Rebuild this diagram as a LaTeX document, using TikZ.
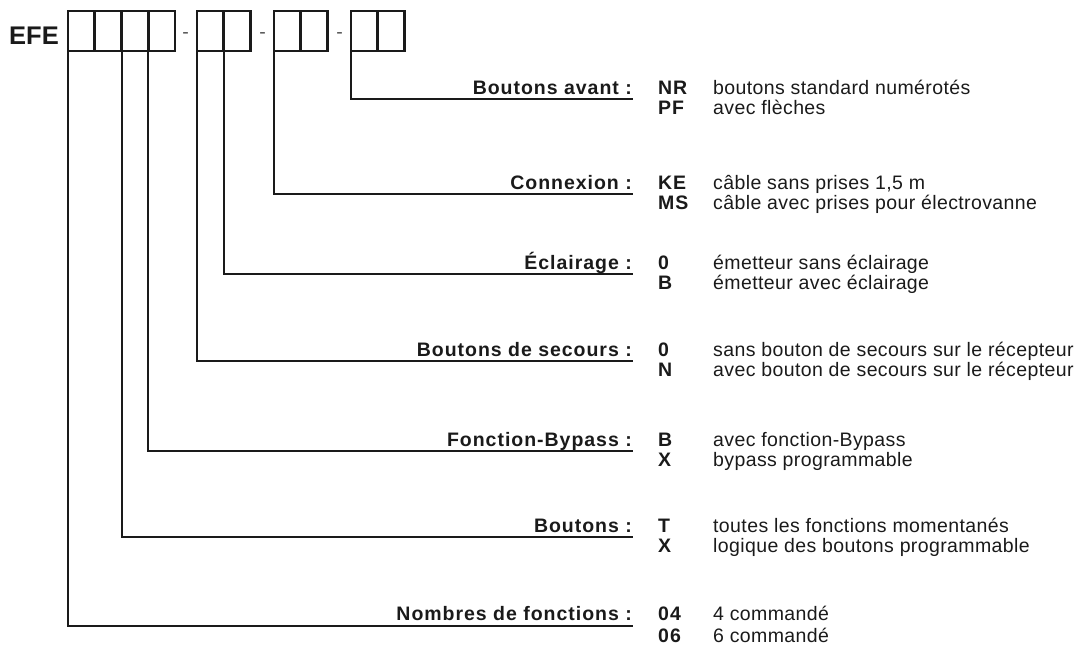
\documentclass[tikz,border=0pt]{standalone}
\usepackage{fontspec}
\setmainfont{Liberation Sans}
\newfontfamily\spfont[LetterSpace=2]{Liberation Sans}
\newfontfamily\bsfont[LetterSpace=5]{Liberation Sans Bold}
\definecolor{ink}{HTML}{1A1A1A}
\definecolor{dashgray}{HTML}{555555}
\begin{document}
\begin{tikzpicture}[x=1pt,y=-1pt,
  cell/.style={draw=ink, line width=2.8pt, minimum width=26.75pt, minimum height=40pt, inner sep=0pt, outer sep=0pt, anchor=north west},
  lab/.style={anchor=base east, inner sep=0pt, text=ink, font=\bsfont\fontsize{19.5}{21}\selectfont},
  code/.style={anchor=base west, inner sep=0pt, text=ink, font=\bsfont\fontsize{19.5}{21}\selectfont},
  desc/.style={anchor=base west, inner sep=0pt, text=ink, font=\spfont\fontsize{19.5}{21}\selectfont},
  hyph/.style={anchor=base, inner sep=0pt, text=dashgray, font=\fontsize{19.5}{21}\selectfont},
  conn/.style={draw=ink, line width=2pt}]
\useasboundingbox (0,0) rectangle (1080,646);

% title
\node[anchor=base west, inner sep=0pt, text=ink, font=\bfseries\fontsize{25.5}{28}\selectfont] (efe) at (9,44) {EFE};

% boxes
\node[cell] (a1) at (68,11) {};
\node[cell] (a2) at (94.75,11) {};
\node[cell] (a3) at (121.5,11) {};
\node[cell] (a4) at (148.25,11) {};
\node[hyph] (s1) at (185.5,38) {-};
\node[cell] (b1) at (197,11) {};
\node[cell] (b2) at (223.75,11) {};
\node[hyph] (s2) at (262.5,38) {-};
\node[cell] (c1) at (274,11) {};
\node[cell] (c2) at (300.75,11) {};
\node[hyph] (s3) at (339.5,38) {-};
\node[cell] (d1) at (351,11) {};
\node[cell] (d2) at (377.75,11) {};

% line ends
\coordinate (e1) at (633,99);
\coordinate (e2) at (633,194);
\coordinate (e3) at (633,274);
\coordinate (e4) at (633,361);
\coordinate (e5) at (633,451);
\coordinate (e6) at (633,537);
\coordinate (e7) at (633,626);

% connectors
\draw[conn] (d1.south west) |- (e1);
\draw[conn] (c1.south west) |- (e2);
\draw[conn] (b2.south west) |- (e3);
\draw[conn] (b1.south west) |- (e4);
\draw[conn] (a4.south west) |- (e5);
\draw[conn] (a3.south west) |- (e6);
\draw[conn] (a1.south west) |- (e7);

% group 1
\node[lab] (l1) at (632,94) {Boutons avant :};
\node[code] (k1a) at (658,94) {NR};
\node[desc] (t1a) at (713,94) {boutons standard numérotés};
\node[code] (k1b) at (658,114.5) {PF};
\node[desc] (t1b) at (713,114.5) {avec flèches};

% group 2
\node[lab] (l2) at (632,189) {Connexion :};
\node[code] (k2a) at (658,189) {KE};
\node[desc] (t2a) at (713,189) {câble sans prises 1,5 m};
\node[code] (k2b) at (658,209.5) {MS};
\node[desc] (t2b) at (713,209.5) {câble avec prises pour électrovanne};

% group 3
\node[lab] (l3) at (632,269) {Éclairage :};
\node[code] (k3a) at (658,269) {0};
\node[desc] (t3a) at (713,269) {émetteur sans éclairage};
\node[code] (k3b) at (658,289.5) {B};
\node[desc] (t3b) at (713,289.5) {émetteur avec éclairage};

% group 4
\node[lab] (l4) at (632,356) {Boutons de secours :};
\node[code] (k4a) at (658,356) {0};
\node[desc] (t4a) at (713,356) {sans bouton de secours sur le récepteur};
\node[code] (k4b) at (658,376.5) {N};
\node[desc] (t4b) at (713,376.5) {avec bouton de secours sur le récepteur};

% group 5
\node[lab] (l5) at (632,446) {Fonction-Bypass :};
\node[code] (k5a) at (658,446) {B};
\node[desc] (t5a) at (713,446) {avec fonction-Bypass};
\node[code] (k5b) at (658,466.5) {X};
\node[desc] (t5b) at (713,466.5) {bypass programmable};

% group 6
\node[lab] (l6) at (632,532) {Boutons :};
\node[code] (k6a) at (658,532) {T};
\node[desc] (t6a) at (713,532) {toutes les fonctions momentanés};
\node[code] (k6b) at (658,552.5) {X};
\node[desc] (t6b) at (713,552.5) {logique des boutons programmable};

% group 7
\node[lab] (l7) at (632,620) {Nombres de fonctions :};
\node[code] (k7a) at (658,620) {04};
\node[desc] (t7a) at (713,620) {4 commandé};
\node[code] (k7b) at (658,642) {06};
\node[desc] (t7b) at (713,642) {6 commandé};
\end{tikzpicture}
\end{document}
